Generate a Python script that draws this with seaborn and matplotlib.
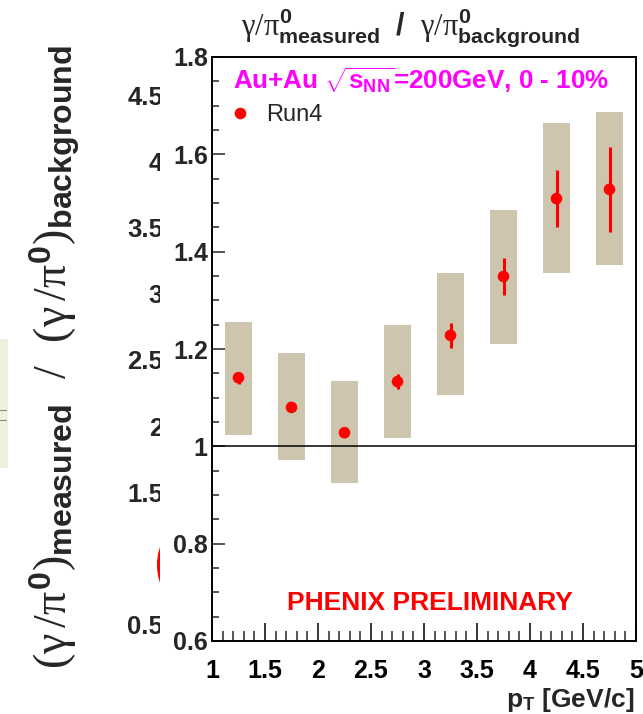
import numpy as np
import pandas as pd
import matplotlib
matplotlib.use("Agg")
import matplotlib.pyplot as plt
from matplotlib.patches import Rectangle, Ellipse
from matplotlib.lines import Line2D
from matplotlib.ticker import MultipleLocator
import seaborn as sns

# ---------------- data ----------------
pt = [1.25, 1.75, 2.25, 2.75, 3.25, 3.75, 4.25, 4.75]
ratio = [1.141, 1.080, 1.028, 1.133, 1.228, 1.349, 1.509, 1.528]
stat_err = [0.012, 0.008, 0.008, 0.016, 0.025, 0.039, 0.059, 0.087]
sys_low = [1.024, 0.972, 0.924, 1.017, 1.106, 1.211, 1.357, 1.372]
sys_high = [1.256, 1.192, 1.134, 1.250, 1.356, 1.486, 1.665, 1.687]
series_label = "Run4"
x_ticks = [1, 1.5, 2, 2.5, 3, 3.5, 4, 4.5, 5]
y_ticks = [0.6, 0.8, 1.0, 1.2, 1.4, 1.6, 1.8]
back_y_ticks = [0.5, 1.5, 2, 2.5, 3, 3.5, 4, 4.5]

df = pd.DataFrame({"pt": pt, "ratio": ratio, "stat": stat_err,
                   "lo": sys_low, "hi": sys_high, "run": series_label})

sns.set_theme(style="ticks")
plt.rcParams["font.family"] = ["Liberation Sans", "DejaVu Sans"]
plt.rcParams["mathtext.fontset"] = "custom"
plt.rcParams["mathtext.rm"] = "Liberation Serif"
plt.rcParams["mathtext.it"] = "Liberation Serif"
plt.rcParams["mathtext.bf"] = "Liberation Sans:bold"
plt.rcParams["mathtext.sf"] = "Liberation Sans"

W, H = 643, 714
fig = plt.figure(figsize=(W / 100, H / 100), dpi=100)

def fx(px):
    return px / W

def fy(py):
    return 1 - py / H

# ---------------- background (partially hidden) plot ----------------
ax_back = fig.add_axes([fx(170), fy(641), fx(400), (641 - 57) / H])
ax_back.set_zorder(0)
ax_back.set_ylim(0.379, 4.787)
ax_back.set_xlim(0, 1)
for s in ax_back.spines.values():
    s.set_visible(False)
ax_back.set_xticks([])
ax_back.set_yticks(back_y_ticks)
ax_back.set_yticklabels([f"{v:g}" for v in back_y_ticks], fontsize=18.5, fontweight="bold")
ax_back.tick_params(axis="y", length=0, pad=5)
ax_back.patch.set_alpha(0)

fig.patches.append(Rectangle((0, fy(468)), fx(8), (468 - 339) / H,
                             transform=fig.transFigure, facecolor="#EAF2DE",
                             edgecolor="none", zorder=0.2))
for yy in (410, 420):
    fig.lines.append(Line2D([0, fx(6)], [fy(yy), fy(yy)], transform=fig.transFigure,
                            color="#888888", lw=0.8, zorder=0.3))
fig.patches.append(Ellipse((fx(185), fy(565)), fx(56), 80 / H,
                           transform=fig.transFigure, facecolor="red",
                           edgecolor="none", zorder=0.3))

fig.text(fx(55), fy(357),
         r"$(\gamma\,/\pi^{\mathbf{0}})_{\mathbf{measured}}\ \ /\ \ (\gamma\,/\pi^{\mathbf{0}})_{\mathbf{background}}$",
         rotation=90, ha="center", va="center", fontsize=33)

# white cover hiding the background plot
fig.patches.append(Rectangle((fx(160), 0), 1 - fx(160), 1, transform=fig.transFigure,
                             facecolor="white", edgecolor="none", zorder=0.5))

# ---------------- front plot ----------------
ax = fig.add_axes([fx(212), fy(641), fx(636 - 212), (641 - 57) / H])
ax.set_zorder(1)
ax.set_facecolor("white")

ax.bar(df["pt"], df["hi"] - df["lo"], bottom=df["lo"], width=0.25,
       color="#CDC5AD", edgecolor="none", zorder=1)
ax.axhline(1.0, color="black", lw=1.1, zorder=2)
ax.errorbar(df["pt"], df["ratio"], yerr=df["stat"], fmt="none",
            ecolor="red", elinewidth=2.2, capsize=0, zorder=3)
sns.scatterplot(data=df, x="pt", y="ratio", hue="run", palette=["red"],
                s=70, edgecolor="none", ax=ax, zorder=4)

ax.set_xlim(1, 5)
ax.set_ylim(0.6, 1.8)
ax.set_xticks(x_ticks)
ax.set_xticklabels([f"{v:g}" for v in x_ticks], fontsize=18, fontweight="bold")
ax.set_yticks(y_ticks)
ax.set_yticklabels([f"{v:g}" for v in y_ticks], fontsize=18, fontweight="bold")
ax.xaxis.set_minor_locator(MultipleLocator(0.1))
ax.yaxis.set_minor_locator(MultipleLocator(0.05))
ax.tick_params(axis="x", which="major", direction="in", length=13, width=1.1, pad=13, colors="black")
ax.tick_params(axis="x", which="minor", direction="in", length=7, width=1.1)
ax.tick_params(axis="y", which="major", direction="in", length=9.5, width=1.1, pad=3)
ax.tick_params(axis="y", which="minor", direction="in", length=5, width=1.1)
ax.tick_params(top=False, right=False, which="both")
for s in ax.spines.values():
    s.set_visible(True)
    s.set_linewidth(1.4)
    s.set_color("black")
ax.set_xlabel("")
ax.set_ylabel("")

leg = ax.legend(loc="upper left", bbox_to_anchor=(fx(231), fy(104)),
                bbox_transform=fig.transFigure, frameon=False, fontsize=17,
                handlelength=0.8, handletextpad=0.7, borderpad=0, borderaxespad=0,
                markerscale=1.0)

fig.text(fx(233), fy(80), r"Au+Au $\sqrt{\mathbf{s}_{\mathbf{NN}}}$=200GeV, 0 - 10%",
         color="#FF00FF", fontsize=18.7, fontweight="bold", ha="left", va="center", zorder=5)
fig.text(fx(430), fy(603), "PHENIX PRELIMINARY", color="red", fontsize=19,
         fontweight="bold", ha="center", va="center", zorder=5)
fig.text(fx(411), fy(28),
         r"$\gamma/\pi^{\mathbf{0}}_{\mathbf{measured}}\ \ \mathbf{/}\ \ \gamma/\pi^{\mathbf{0}}_{\mathbf{background}}$",
         fontsize=22, ha="center", va="center", zorder=5)
fig.text(fx(634), fy(700), r"$\mathbf{p}_{\mathbf{T}}$ [GeV/c]", fontsize=19,
         fontweight="bold", ha="right", va="center", zorder=5)

fig.savefig("out.png", dpi=100)
